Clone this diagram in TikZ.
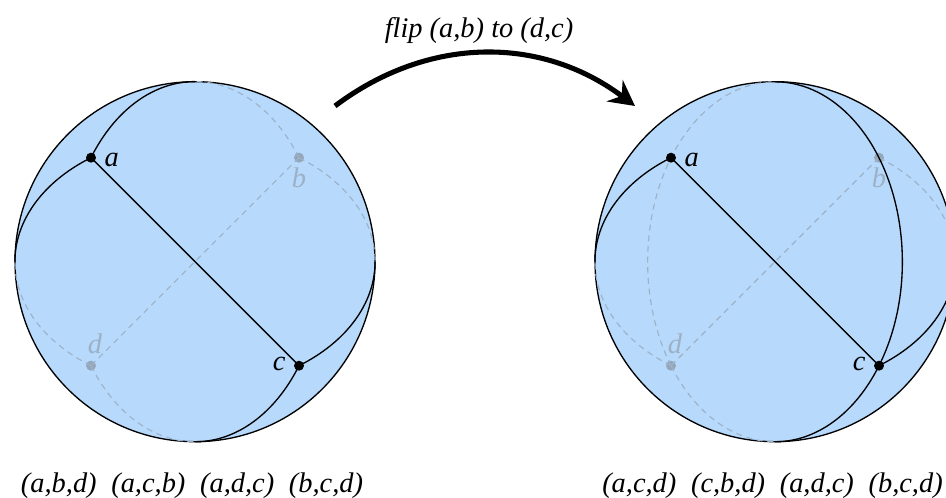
\documentclass[tikz,border=0pt]{standalone}
\usepackage{fontspec}
\setmainfont{Liberation Serif}
\usepackage{tikz}
\usetikzlibrary{positioning, arrows.meta}
\definecolor{spherefill}{HTML}{B7D9FC}
\definecolor{hiddenline}{HTML}{9DB2C8}
\definecolor{hiddendot}{HTML}{94A6BA}
\definecolor{hiddentext}{HTML}{9CB0C6}
\newcommand{\rbig}{135pt}
\newcommand{\rsmall}{95.46pt}

\begin{document}
\begin{tikzpicture}[
  x=0.75pt, y=0.75pt,
  font=\fontsize{21.3}{24}\selectfont\itshape,
  sphere/.style={draw, fill=spherefill, line width=1pt},
  edge/.style={draw=black, line width=1pt},
  hidden/.style={draw=hiddenline, line width=0.85pt, dash pattern=on 4.5pt off 3.5pt},
  vertex/.style={circle, fill=black, inner sep=0pt, minimum size=7.5pt},
  ghost/.style={circle, fill=hiddendot, inner sep=0pt, minimum size=7.5pt},
  vlabel/.style={inner sep=0pt, node distance=6pt},
  glabel/.style={inner sep=0pt, text=hiddentext},
  triples/.style={inner sep=0pt},
  flip/.style={-{Stealth[length=19pt, width=20pt, inset=6.5pt]}, line width=3.8pt},
  tall/.style={x radius=\rsmall, y radius=\rbig},
  wide/.style={x radius=\rbig, y radius=\rsmall},
]
\useasboundingbox (0,0) rectangle (946,498);

% left sphere
\coordinate (o1) at (195,236.3);
\draw[sphere] (o1) circle[radius=\rbig];
\node[ghost]  (b1) at (299,340.3) {};
\node[ghost]  (d1) at (91,132.3) {};
\draw[hidden] (b1.center) -- (d1.center);
\draw[hidden] (b1.center) arc[start angle=35.26, end angle=90, tall];
\draw[hidden] (b1.center) arc[start angle=54.74, end angle=0, wide];
\draw[hidden] (d1.center) arc[start angle=234.74, end angle=180, wide];
\draw[hidden] (d1.center) arc[start angle=215.26, end angle=270, tall];
\node[vertex] (a1) at (91,340.3) {};
\node[vertex] (c1) at (299,132.3) {};
\draw[edge] (a1.center) -- (c1.center);
\draw[edge] (a1.center) arc[start angle=144.74, end angle=90, tall];
\draw[edge] (a1.center) arc[start angle=125.26, end angle=180, wide];
\draw[edge] (c1.center) arc[start angle=-54.74, end angle=0, wide];
\draw[edge] (c1.center) arc[start angle=-35.26, end angle=-90, tall];
\node[vlabel, right=of a1, yshift=-2pt] (la1) {a};
\node[glabel, below=3.5pt of b1] (lb1) {b};
\node[vlabel, left=of c1, yshift=1pt]  (lc1) {c};
\node[glabel, above=5pt of d1, xshift=3pt] (ld1) {d};

% right sphere
\coordinate (o2) at (775,236.3);
\draw[sphere] (o2) circle[radius=\rbig];
\node[ghost]  (b2) at (879,340.3) {};
\node[ghost]  (d2) at (671,132.3) {};
\draw[hidden] (b2.center) -- (d2.center);
\draw[hidden] (d2.center) arc[start angle=215.26, end angle=90, tall];
\draw[hidden] (b2.center) arc[start angle=54.74, end angle=0, wide];
\draw[hidden] (d2.center) arc[start angle=234.74, end angle=180, wide];
\draw[hidden] (d2.center) arc[start angle=215.26, end angle=270, tall];
\node[vertex] (a2) at (671,340.3) {};
\node[vertex] (c2) at (879,132.3) {};
\draw[edge] (a2.center) -- (c2.center);
\draw[edge] (a2.center) arc[start angle=125.26, end angle=180, wide];
\draw[edge] (c2.center) arc[start angle=-54.74, end angle=0, wide];
\draw[edge] (c2.center) arc[start angle=-35.26, end angle=-90, tall];
\draw[edge] (c2.center) arc[start angle=-35.26, end angle=90, tall];
\node[vlabel, right=of a2, yshift=-2pt] (la2) {a};
\node[glabel, below=3.5pt of b2] (lb2) {b};
\node[vlabel, left=of c2, yshift=1pt]  (lc2) {c};
\node[glabel, above=5pt of d2, xshift=3pt] (ld2) {d};

% the flip
\coordinate (from) at (335,392);
\coordinate (to) at (635,392);
\draw[flip] (from) to[bend left=37] (to);
\node (fliptext) at (479,467) {flip (a,b) to (d,c)};

% triangles
\node[triples] (tri1) at (192,12.5) {(a,b,d)\hspace{11pt}(a,c,b)\hspace{11pt}(a,d,c)\hspace{11pt}(b,c,d)};
\node[triples] (tri2) at (772.5,12.5) {(a,c,d)\hspace{11pt}(c,b,d)\hspace{11pt}(a,d,c)\hspace{11pt}(b,c,d)};
\end{tikzpicture}
\end{document}
